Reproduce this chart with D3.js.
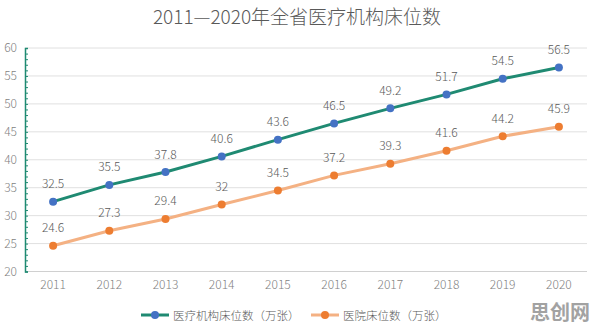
<!DOCTYPE html>
<html>
<head>
<meta charset="utf-8">
<script src="https://cdn.jsdelivr.net/npm/d3@7"></script>
<style>
  body { margin: 0; background: #fff; }
  text { font-family: "Noto Sans CJK SC", "Noto Sans", sans-serif; font-weight: 300; }
</style>
</head>
<body>
<div id="chart"></div>
<script>
var years = ['2011', '2012', '2013', '2014', '2015', '2016', '2017', '2018', '2019', '2020'];
var institutionBeds = [32.5, 35.5, 37.8, 40.6, 43.6, 46.5, 49.2, 51.7, 54.5, 56.5];
var hospitalBeds = [24.6, 27.3, 29.4, 32, 34.5, 37.2, 39.3, 41.6, 44.2, 45.9];
var yTicks = [20, 25, 30, 35, 40, 45, 50, 55, 60];
var seriesNames = ['医疗机构床位数（万张）', '医院床位数（万张）'];

var W = 596, H = 331;
var plotLeft = 25, plotRight = 587, plotTop = 48, plotBottom = 271.5;

var svg = d3.select('#chart').append('svg')
    .attr('width', W).attr('height', H);

var x = d3.scaleBand().domain(years).range([plotLeft, plotRight]);
var y = d3.scaleLinear().domain([20, 60]).range([plotBottom, plotTop]);

// title
svg.append('text')
    .attr('x', 297).attr('y', 23.5)
    .attr('text-anchor', 'middle')
    .attr('font-size', 19)
    .attr('fill', '#595959')
    .text('2011—2020年全省医疗机构床位数');

// grid
svg.append('g').selectAll('line')
    .data(yTicks)
    .enter().append('line')
    .attr('x1', plotLeft).attr('x2', plotRight)
    .attr('y1', d => y(d)).attr('y2', d => y(d))
    .attr('stroke', d => d === 20 ? '#d0d0d0' : '#e0e0e0')
    .attr('stroke-width', 1);

// y tick labels
svg.append('g').selectAll('text')
    .data(yTicks)
    .enter().append('text')
    .attr('x', 17).attr('y', d => y(d) + 4)
    .attr('text-anchor', 'end')
    .attr('font-size', 12)
    .attr('fill', '#7f7f7f')
    .text(d => d);

// y axis with minor ticks
var yAxis = d3.axisRight(y).ticks(40).tickSize(3).tickFormat('');
var ya = svg.append('g').attr('transform', 'translate(' + plotLeft + ',0)').call(yAxis);
ya.selectAll('line, path').attr('stroke', '#1f8a72');
ya.select('.domain').attr('stroke-width', 1.5);

// x labels
var xAxis = d3.axisBottom(x).tickSize(0).tickPadding(9);
var xa = svg.append('g').attr('transform', 'translate(0,' + plotBottom + ')').call(xAxis);
xa.select('.domain').remove();
xa.selectAll('text')
    .attr('font-size', 12)
    .attr('fill', '#7f7f7f')
    .style('font-family', '"Noto Sans CJK SC", "Noto Sans", sans-serif')
    .style('font-weight', 300);

var cx = d => x(d) + x.bandwidth() / 2;

var series = [
    {name: seriesNames[0], values: institutionBeds, line: '#1f8a72', dot: '#4472c4'},
    {name: seriesNames[1], values: hospitalBeds, line: '#f4b183', dot: '#ed7d31'}
];

var lineGen = d3.line()
    .x((d, i) => cx(years[i]))
    .y(d => y(d));

series.forEach(function (s) {
    svg.append('path')
        .datum(s.values)
        .attr('d', lineGen)
        .attr('fill', 'none')
        .attr('stroke', s.line)
        .attr('stroke-width', 3);

    svg.append('g').selectAll('circle')
        .data(s.values)
        .enter().append('circle')
        .attr('cx', (d, i) => cx(years[i]))
        .attr('cy', d => y(d))
        .attr('r', 4)
        .attr('fill', s.dot);

    svg.append('g').selectAll('text')
        .data(s.values)
        .enter().append('text')
        .attr('x', (d, i) => cx(years[i]))
        .attr('y', d => y(d) - 13.5)
        .attr('text-anchor', 'middle')
        .attr('font-size', 12)
        .attr('fill', '#595959')
        .text(d => d);
});

// legend
var legendX = [141, 311];
series.forEach(function (s, i) {
    var g = svg.append('g').attr('transform', 'translate(' + legendX[i] + ',315)');
    g.append('line')
        .attr('x1', 0).attr('x2', 28).attr('y1', 0).attr('y2', 0)
        .attr('stroke', s.line).attr('stroke-width', 3);
    g.append('circle').attr('cx', 14).attr('cy', 0).attr('r', 4).attr('fill', s.dot);
    g.append('text')
        .attr('x', 32).attr('y', 4.5)
        .attr('font-size', 11.5)
        .attr('fill', '#595959')
        .text(s.name);
});

// watermark
svg.append('text')
    .attr('x', 590).attr('y', 320)
    .attr('text-anchor', 'end')
    .attr('font-size', 20)
    .style('font-weight', 'bold')
    .attr('fill', '#8c8c8c')
    .attr('opacity', 0.8)
    .text('思创网');
</script>
</body>
</html>
